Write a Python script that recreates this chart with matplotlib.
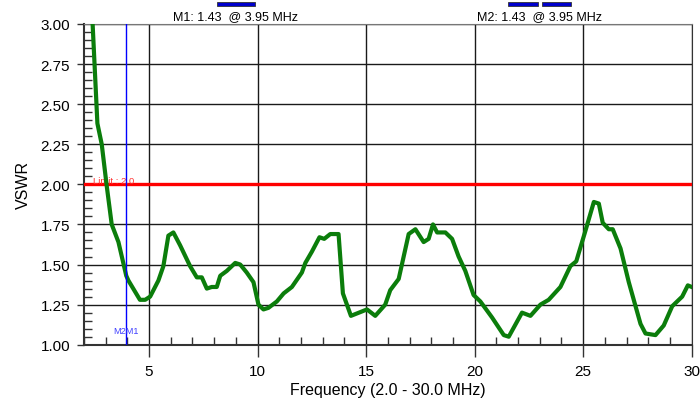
import matplotlib.pyplot as plt
from matplotlib.patches import Rectangle
from matplotlib.ticker import MultipleLocator

plt.rcParams['font.family'] = ['Liberation Sans', 'DejaVu Sans']

# sweep data
freq = [2.0, 2.40, 2.62, 2.82, 3.05, 3.28, 3.59, 3.95, 4.05, 4.58, 4.82, 5.05,
        5.43, 5.66, 5.89, 6.12, 6.43, 6.89, 7.2, 7.43, 7.66, 7.89, 8.12, 8.28,
        8.58, 8.97, 9.2, 9.5, 9.81, 10.04, 10.27, 10.5, 10.89, 11.2, 11.58,
        12.04, 12.2, 12.5, 12.85, 13.07, 13.35, 13.73, 13.93, 14.3, 15.04,
        15.42, 15.88, 16.11, 16.5, 16.96, 17.27, 17.65, 17.88, 18.08, 18.27,
        18.65, 18.96, 19.26, 19.57, 19.95, 20.26, 20.8, 21.34, 21.57, 22.18,
        22.57, 23.03, 23.41, 23.95, 24.41, 24.68, 25.08, 25.49, 25.72, 25.9,
        26.18, 26.36, 26.72, 27.1, 27.64, 27.87, 28.33, 28.71, 29.1, 29.56,
        29.82, 30.0]
vswr = [4.1, 3.0, 2.38, 2.25, 1.99, 1.75, 1.64, 1.43, 1.40, 1.28, 1.28, 1.30,
        1.40, 1.49, 1.68, 1.70, 1.62, 1.49, 1.42, 1.42, 1.35, 1.36, 1.36, 1.43,
        1.46, 1.51, 1.50, 1.45, 1.39, 1.25, 1.22, 1.23, 1.27, 1.32, 1.36,
        1.45, 1.51, 1.58, 1.67, 1.66, 1.69, 1.69, 1.32, 1.18, 1.22,
        1.18, 1.25, 1.34, 1.41, 1.69, 1.72, 1.64, 1.66, 1.75, 1.70,
        1.70, 1.66, 1.55, 1.46, 1.31, 1.27, 1.17, 1.06, 1.05, 1.20,
        1.18, 1.25, 1.28, 1.36, 1.49, 1.52, 1.70, 1.89, 1.88, 1.76,
        1.72, 1.72, 1.60, 1.39, 1.13, 1.07, 1.06, 1.12, 1.24, 1.30,
        1.37, 1.36]

limit = 2.0
marker_f = 3.95
marker_v = 1.43
marker_names = ['M1', 'M2']

fig = plt.figure(figsize=(7, 4.02), dpi=100, facecolor='white')
ax = fig.add_axes([0.1199, 0.140, 0.8683, 0.798])

ax.set_xlim(2, 30)
ax.set_ylim(1, 3)
ax.xaxis.set_major_locator(MultipleLocator(5))
ax.xaxis.set_minor_locator(MultipleLocator(1))
ax.yaxis.set_major_locator(MultipleLocator(0.25))
ax.yaxis.set_minor_locator(MultipleLocator(0.05))
ax.yaxis.set_major_formatter(plt.FormatStrFormatter('%.2f'))

ax.grid(True, which='major', color='#1a1a1a', lw=1.0)
ax.set_axisbelow(True)
ax.tick_params(which='major', direction='out', length=5, width=1, color='#333333',
               labelsize=11, pad=5)
ax.tick_params(axis='x', which='major', length=8.6, pad=5.5)
ax.tick_params(which='minor', direction='in', length=6, width=1, color='#333333')
for s in ['left', 'bottom']:
    ax.spines[s].set_color('#333333')
    ax.spines[s].set_linewidth(1.5)
ax.spines['top'].set_color('#777777')
ax.spines['right'].set_color('#333333')

ax.axhline(limit, color='#ff0000', lw=2.4, zorder=3)
ax.text(2.41, limit + 0.01, 'Limit : 2.0', color='#ff3030', fontsize=6.8,
        va='baseline', ha='left')

ax.plot(freq, vswr, color='#0b7d0b', lw=3, zorder=4, solid_joinstyle='round')

ax.axvline(marker_f, color='#0000ff', lw=1, zorder=5)
ax.text(marker_f, 1.09, ''.join(marker_names[::-1]), color='#4040ff', fontsize=6.6,
        ha='center', va='center', zorder=6)

ax.set_xlabel('Frequency (2.0 - 30.0 MHz)', fontsize=11.5, labelpad=3)
ax.set_ylabel('VSWR', fontsize=11.5, labelpad=7)

# marker readouts above the plot
fig.text(235.7 / 700, 1 - 17.5 / 402,
         '%s: %.2f  @ %.2f MHz' % (marker_names[0], marker_v, marker_f),
         ha='center', va='center', fontsize=9)
fig.text(539.5 / 700, 1 - 17.5 / 402,
         '%s: %.2f  @ %.2f MHz' % (marker_names[1], marker_v, marker_f),
         ha='center', va='center', fontsize=9)
for x0, w in [(216.7, 38.3), (508.3, 29.4), (542.3, 28.7)]:
    fig.add_artist(Rectangle((x0 / 700, 1 - 6.5 / 402), w / 700, 4 / 402,
                             transform=fig.transFigure, facecolor='#0000cc',
                             edgecolor='#333333', lw=0.6))

fig.savefig('out.png', dpi=100)
